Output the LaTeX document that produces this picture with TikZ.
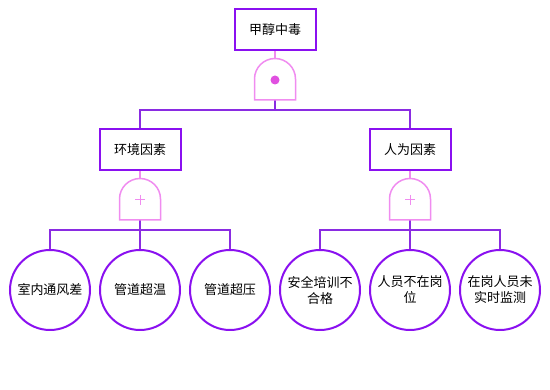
\documentclass[tikz,border=0pt]{standalone}
\usepackage{fontspec}
\setmainfont{Noto Sans CJK SC}
\begin{document}
\begin{tikzpicture}[x=1pt,y=-1pt,
  box/.style={draw=boxc,line width=2pt,fill=white,minimum width=81pt,minimum height=41pt,inner sep=0pt,font=\fontsize{13}{16}\selectfont},
  evt/.style={draw=boxc,line width=2pt,fill=white,circle,minimum size=80pt,inner sep=0pt,align=center,font=\fontsize{13}{16}\selectfont},
  wire/.style={draw=linec,line width=2pt},
  gwire/.style={draw=gatec,line width=1.5pt},
  gateline/.style={draw=gatec,line width=1.5pt,fill=white}]
\definecolor{boxc}{HTML}{8A10F0}
\definecolor{linec}{HTML}{8A2BE2}
\definecolor{gatec}{HTML}{F08CF0}
\definecolor{dotc}{HTML}{E050E0}
\useasboundingbox (0,0) rectangle (550,390);
% nodes
\node[box] (top) at (275,30) {甲醇中毒};
\node[box] (env) at (140,150) {环境因素};
\node[box] (hum) at (410,150) {人为因素};
\node[evt] (e1) at (50,290) {室内通风差};
\node[evt] (e2) at (140,290) {管道超温};
\node[evt] (e3) at (230,290) {管道超压};
\node[evt] (e4) at (320,290) {安全培训不\\合格};
\node[evt] (e5) at (410,290) {人员不在岗\\位};
\node[evt] (e6) at (500,290) {在岗人员未\\实时监测};
% gates
\coordinate (g0t) at (275,58); \coordinate (g0b) at (275,100);
\coordinate (g1t) at (140,180); \coordinate (g1b) at (140,220);
\coordinate (g2t) at (410,180); \coordinate (g2b) at (410,220);
\coordinate (b0) at (275,110); \coordinate (b1) at (140,230); \coordinate (b2) at (410,230);
% wires
\draw[gwire] (top.south) -- (g0t);
\draw[gwire] (env.south) -- (g1t);
\draw[gwire] (hum.south) -- (g2t);
\draw[wire] (g0b) -- (b0);
\draw[wire] (env.north) |- (b0) -| (hum.north);
\draw[wire] (g1b) -- (b1);
\draw[wire] (e1.north) |- (b1) -| (e3.north);
\draw[wire] (b1) -- (e2.north);
\draw[wire] (g2b) -- (b2);
\draw[wire] (e4.north) |- (b2) -| (e6.north);
\draw[wire] (b2) -- (e5.north);
% gate shapes
\foreach \cx/\cy in {275/100,140/220,410/220}{
  \draw[gateline] (\cx-20.5,\cy) -- (\cx-20.5,\cy-21) arc[start angle=180,end angle=0,x radius=20.5,y radius=-20.5] -- (\cx+20.5,\cy) -- cycle;
}
\fill[dotc] (275,80) circle (4.5);
\foreach \cx in {140,410}{
  \draw[gatec,line width=1pt] (\cx-5,200) -- (\cx+5,200) (\cx,195) -- (\cx,205);
}
\end{tikzpicture}
\end{document}
